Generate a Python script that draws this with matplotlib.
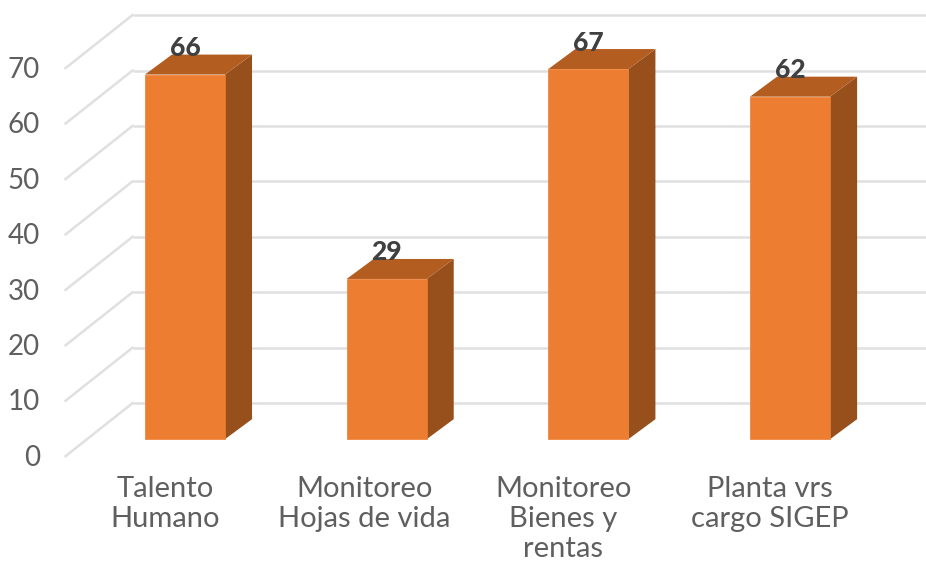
import matplotlib
matplotlib.use("Agg")
import matplotlib.pyplot as plt
from matplotlib.patches import Polygon

plt.rcParams["font.family"] = ["Lato", "DejaVu Sans"]

labels = ["Talento\nHumano", "Monitoreo\nHojas de vida", "Monitoreo\nBienes y\nrentas", "Planta vrs\ncargo SIGEP"]
values = [66, 29, 67, 62]
ticks = [0, 10, 20, 30, 40, 50, 60, 70]

fig = plt.figure(figsize=(9.26, 5.64), dpi=100)
ax = fig.add_axes([0, 0, 1, 1])
ax.set_xlim(-0.917, 3.674)
ax.set_ylim(-22.6, 79.5)
ax.axis("off")

# fake 3d: depth offset in data units
dx = 0.134
dy = 3.62
w = 0.397 / 2
wall_l = -0.26
floor_dx = 0.332
floor_dy = 9.6
label_shift = [-0.1, -0.11, -0.124, -0.1]

# gridlines, back wall and left side
for t in ticks:
    y = t * 1.0036 - 3.08
    ax.plot([wall_l, 3.674], [y + floor_dy, y + floor_dy], color="#e0e0e0", lw=1.8, zorder=1, solid_capstyle="butt")
    ax.plot([wall_l - floor_dx, wall_l], [y, y + floor_dy], color="#e0e0e0", lw=1.8, zorder=1)
    ax.text(-0.719, y - 0.3, str(t), fontsize=20, color="#5f5f5f", ha="right", va="center")

for i, v in enumerate(values):
    l, r = i - w, i + w
    front = Polygon([(l, 0), (r, 0), (r, v), (l, v)], fc="#ed7d31", ec="#ed7d31", lw=0.5, zorder=3)
    side = Polygon([(r, 0), (r + dx, dy), (r + dx, v + dy), (r, v)], fc="#974f1c", ec="none", zorder=3)
    top = Polygon([(l, v), (r, v), (r + dx, v + dy), (l + dx, v + dy)], fc="#b35d20", ec="none", zorder=3)
    ax.add_patch(side)
    ax.add_patch(top)
    ax.add_patch(front)
    ax.text(i, v + 4.8, str(v), fontsize=19, fontweight="black", color="#404040", ha="center", va="center", zorder=4)
    ax.text(i + label_shift[i], -6.6, labels[i], fontsize=21, color="#5f5f5f", ha="center", va="top", linespacing=1.19)

fig.savefig("out.png", dpi=100)
